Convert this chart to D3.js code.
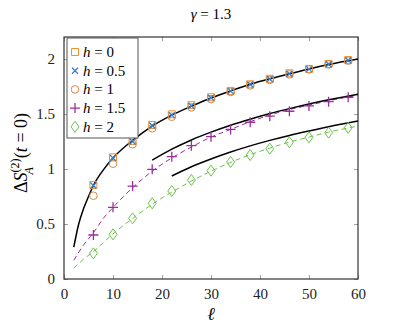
<!DOCTYPE html>
<html>
<head>
<meta charset="utf-8">
<script src="https://cdn.jsdelivr.net/npm/d3@7"></script>
<style>
  body { margin: 0; background: #fff; }
  svg text { font-family: "Liberation Serif", "Times New Roman", "DejaVu Serif", serif !important; }
</style>
</head>
<body>
<svg id="chart_plot" width="408" height="330" font-family="Liberation Serif"></svg>
<script>
// data
const ells = [6, 10, 14, 18, 22, 26, 30, 34, 38, 42, 46, 50, 54, 58];
const h0 = [0.855, 1.106, 1.255, 1.4, 1.497, 1.58, 1.652, 1.71, 1.77, 1.82, 1.87, 1.91, 1.955, 1.99];
const h05 = [0.85, 1.1, 1.25, 1.395, 1.49, 1.575, 1.648, 1.708, 1.768, 1.818, 1.866, 1.908, 1.952, 1.988];
const h1 = [0.757, 1.048, 1.225, 1.37, 1.475, 1.56, 1.635, 1.7, 1.76, 1.81, 1.86, 1.905, 1.95, 1.985];
const h15 = [0.4, 0.652, 0.845, 0.997, 1.112, 1.212, 1.294, 1.36, 1.425, 1.48, 1.525, 1.573, 1.612, 1.652];
const h2 = [0.233, 0.406, 0.552, 0.688, 0.8, 0.9, 0.985, 1.064, 1.127, 1.185, 1.243, 1.288, 1.33, 1.375];

// solid fit curves
const fit1X = [2, 3, 4, 5, 6, 8, 10, 14, 18, 22, 26, 30, 34, 38, 42, 46, 50, 54, 60];
const fit1Y = [0.29, 0.5, 0.64, 0.75, 0.85, 0.99, 1.1, 1.26, 1.39, 1.49, 1.57, 1.645, 1.71, 1.77, 1.82, 1.865, 1.91, 1.95, 2.0];
const fit2X = [18, 22, 26, 30, 34, 38, 42, 46, 50, 54, 60];
const fit2Y = [1.08, 1.18, 1.264, 1.335, 1.398, 1.453, 1.504, 1.549, 1.591, 1.629, 1.68];
const fit3X = [22, 26, 30, 34, 38, 42, 46, 50, 54, 60];
const fit3Y = [0.936, 1.02, 1.091, 1.154, 1.21, 1.26, 1.305, 1.346, 1.385, 1.436];

// dashed curves
const dashX = [2, 4, 6, 8, 10, 14, 18, 22, 26, 30, 34, 38, 42, 46, 50, 54, 60];
const dashPurple = [0.17, 0.31, 0.42, 0.55, 0.65, 0.83, 0.98, 1.1, 1.2, 1.29, 1.36, 1.43, 1.49, 1.54, 1.58, 1.62, 1.67];
const dashGreen = [0.1, 0.18, 0.25, 0.33, 0.41, 0.55, 0.68, 0.79, 0.89, 0.98, 1.06, 1.13, 1.19, 1.245, 1.29, 1.335, 1.39];

const xTicks = [0, 10, 20, 30, 40, 50, 60];
const yTicks = [0, 0.5, 1, 1.5, 2];
const legendLabels = ["0", "0.5", "1", "1.5", "2"];

const svg = d3.select("svg#chart_plot");
const serif = '"Liberation Serif", "DejaVu Serif", serif';

//plot area
const box = { left: 64, right: 358, top: 37, bottom: 279 };

const xScale = d3.scaleLinear().domain([0, 60]).range([box.left, box.right]);
const yScale = d3.scaleLinear().domain([0, 2.2]).range([box.bottom, box.top]);

const colors = {
  sq: "#f0922d",
  cross: "#3b7fc4",
  circ: "#d08c50",
  plus: "#9b2f9b",
  diam: "#6cc24a"
};

//title
svg.append("text")
  .attr("x", 211).attr("y", 19)
  .attr("text-anchor", "middle")
  .attr("font-size", 15)
  .attr("font-family", serif)
  .html('<tspan font-style="italic">γ</tspan> = 1.3');

//axes
const tickLen = 4;
svg.append("g")
  .attr("transform", `translate(0, ${box.bottom})`)
  .call(d3.axisBottom(xScale).tickValues(xTicks).tickSize(-tickLen).tickPadding(9).tickFormat(d3.format("d")))
  .call(g => g.select(".domain").remove());
svg.append("g")
  .attr("transform", `translate(0, ${box.top})`)
  .call(d3.axisTop(xScale).tickValues(xTicks).tickSize(-tickLen).tickFormat(""))
  .call(g => g.select(".domain").remove());
svg.append("g")
  .attr("transform", `translate(${box.left}, 0)`)
  .call(d3.axisLeft(yScale).tickValues(yTicks).tickSize(-tickLen).tickPadding(9).tickFormat(d => d))
  .call(g => g.select(".domain").remove());
svg.append("g")
  .attr("transform", `translate(${box.right}, 0)`)
  .call(d3.axisRight(yScale).tickValues(yTicks).tickSize(-tickLen).tickFormat(""))
  .call(g => g.select(".domain").remove());

svg.selectAll("g").attr("font-family", serif);
svg.selectAll(".tick line").attr("stroke", "#888").attr("stroke-width", 0.8);
svg.selectAll(".tick text")
  .attr("font-size", 15)
  .attr("fill", "#222")
  .attr("font-family", serif);

//frame
svg.append("rect")
  .attr("x", box.left).attr("y", box.top)
  .attr("width", box.right - box.left).attr("height", box.bottom - box.top)
  .attr("fill", "none").attr("stroke", "#333").attr("stroke-width", 1.2);

//axis labels
svg.append("text")
  .attr("x", 211).attr("y", 320)
  .attr("text-anchor", "middle")
  .attr("font-size", 18)
  .attr("font-style", "italic")
  .attr("font-family", serif)
  .text("ℓ");

const yLab = svg.append("text")
  .attr("transform", "translate(27, 153) rotate(-90)")
  .attr("text-anchor", "middle")
  .attr("font-family", serif)
  .attr("font-size", 18);
yLab.append("tspan").text("Δ");
yLab.append("tspan").attr("font-style", "italic").text("S");
yLab.append("tspan").attr("font-size", 12).attr("dy", -8).text("(2)");
yLab.append("tspan").attr("font-size", 12).attr("font-style", "italic").attr("dx", -16).attr("dy", 14).text("A");
yLab.append("tspan").attr("dx", 9).attr("dy", -6).text("(");
yLab.append("tspan").attr("font-style", "italic").text("t");
yLab.append("tspan").text(" = 0)");

const plot = svg.append("g");

//line generator
const lineGen = d3.line()
  .x(d => xScale(d[0]))
  .y(d => yScale(d[1]))
  .curve(d3.curveMonotoneX);

const drawLine = (xs, ys, color, width, dash) => {
  plot.append("path")
    .attr("d", lineGen(xs.map((x, i) => [x, ys[i]])))
    .attr("fill", "none")
    .attr("stroke", color)
    .attr("stroke-width", width)
    .attr("stroke-dasharray", dash);
};

drawLine(dashX, dashPurple, colors.plus, 1, "5,3.5");
drawLine(dashX, dashGreen, colors.diam, 1, "5,3.5");
drawLine(fit1X, fit1Y, "#000", 1.5, null);
drawLine(fit2X, fit2Y, "#000", 1.5, null);
drawLine(fit3X, fit3Y, "#000", 1.5, null);

//marker shapes
const markerPath = {
  sq: "M-3.5,-3.5H3.5V3.5H-3.5Z",
  cross: "M-3,-3L3,3M-3,3L3,-3",
  circ: "M3.8,0A3.8,3.8 0 1 1 -3.8,0A3.8,3.8 0 1 1 3.8,0Z",
  plus: "M-5,0H5M0,-5V5",
  diam: "M0,-5.5L4,0L0,5.5L-4,0Z"
};

const series = [
  { key: "sq", vals: h0 },
  { key: "circ", vals: h1 },
  { key: "cross", vals: h05 },
  { key: "plus", vals: h15 },
  { key: "diam", vals: h2 }
];

series.forEach(s => {
  plot.append("g")
    .selectAll("path")
    .data(s.vals)
    .join("path")
    .attr("transform", (d, i) => `translate(${xScale(ells[i])}, ${yScale(d)})`)
    .attr("d", markerPath[s.key])
    .attr("fill", "none")
    .attr("stroke", colors[s.key])
    .attr("stroke-width", s.key === "cross" || s.key === "plus" ? 1.3 : 1);
});

//legend
const legend = svg.append("g");
legend.append("rect")
  .attr("x", 67).attr("y", 38)
  .attr("width", 71).attr("height", 100)
  .attr("fill", "#fff").attr("stroke", "#555").attr("stroke-width", 1);

const legendKeys = ["sq", "cross", "circ", "plus", "diam"];
legendKeys.forEach((k, i) => {
  const y = 52 + i * 18.7;
  legend.append("path")
    .attr("transform", `translate(75, ${y})`)
    .attr("d", markerPath[k])
    .attr("fill", "none")
    .attr("stroke", colors[k])
    .attr("stroke-width", k === "cross" || k === "plus" ? 1.3 : 1);
  legend.append("text")
    .attr("x", 83).attr("y", y + 5)
    .attr("font-size", 15)
    .attr("font-family", serif)
    .html(`<tspan font-style="italic">h</tspan> = ${legendLabels[i]}`);
});
</script>
</body>
</html>
